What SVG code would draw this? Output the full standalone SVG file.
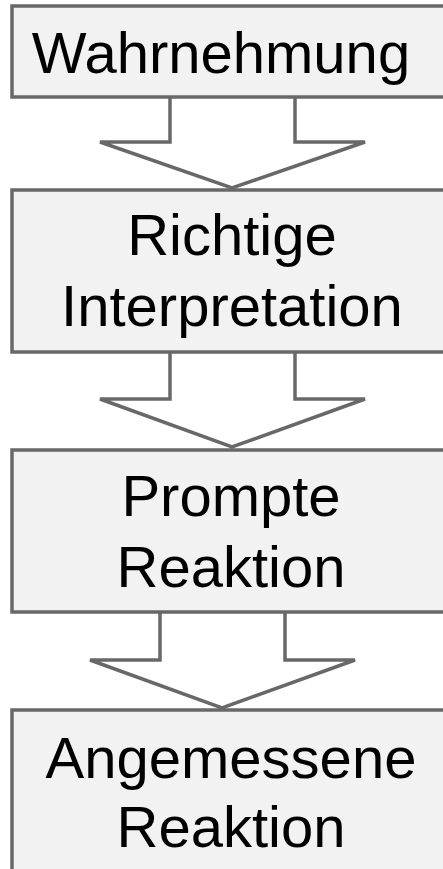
<svg xmlns="http://www.w3.org/2000/svg" width="443" height="869" viewBox="0 0 443 869">
<style>
.box{fill:#f2f2f2;stroke:#686868;stroke-width:3.5}
.arrow{fill:#ffffff;stroke:#686868;stroke-width:3.5;stroke-linejoin:miter}
.lbl{font-family:"Liberation Sans",Arial,sans-serif;font-size:58px;fill:#000;text-anchor:middle}
</style>
<rect width="443" height="869" fill="#ffffff"/>
<g id="connectors">
<polyline class="arrow" points="170,97 170,142 100,142 232,188 365,142 295,142 295,97"/>
<polyline class="arrow" points="170,352 170,399 100,399 232,447 365,399 295,399 295,352"/>
<polyline class="arrow" points="160,612 160,660 90,660 222,708 355,660 285,660 285,612"/>
</g>
<g id="n1">
<rect class="box" x="12" y="6" width="460" height="91"/>
<text class="lbl" x="221" y="73">Wahrnehmung</text>
</g>
<g id="n2">
<rect class="box" x="12" y="190" width="460" height="162"/>
<text class="lbl" x="232" y="255">Richtige</text>
<text class="lbl" x="232" y="326">Interpretation</text>
</g>
<g id="n3">
<rect class="box" x="12" y="450" width="460" height="162"/>
<text class="lbl" x="231" y="516">Prompte</text>
<text class="lbl" x="231" y="587">Reaktion</text>
</g>
<g id="n4">
<rect class="box" x="12" y="710" width="460" height="175"/>
<text class="lbl" x="231" y="778">Angemessene</text>
<text class="lbl" x="231" y="847">Reaktion</text>
</g>
</svg>
